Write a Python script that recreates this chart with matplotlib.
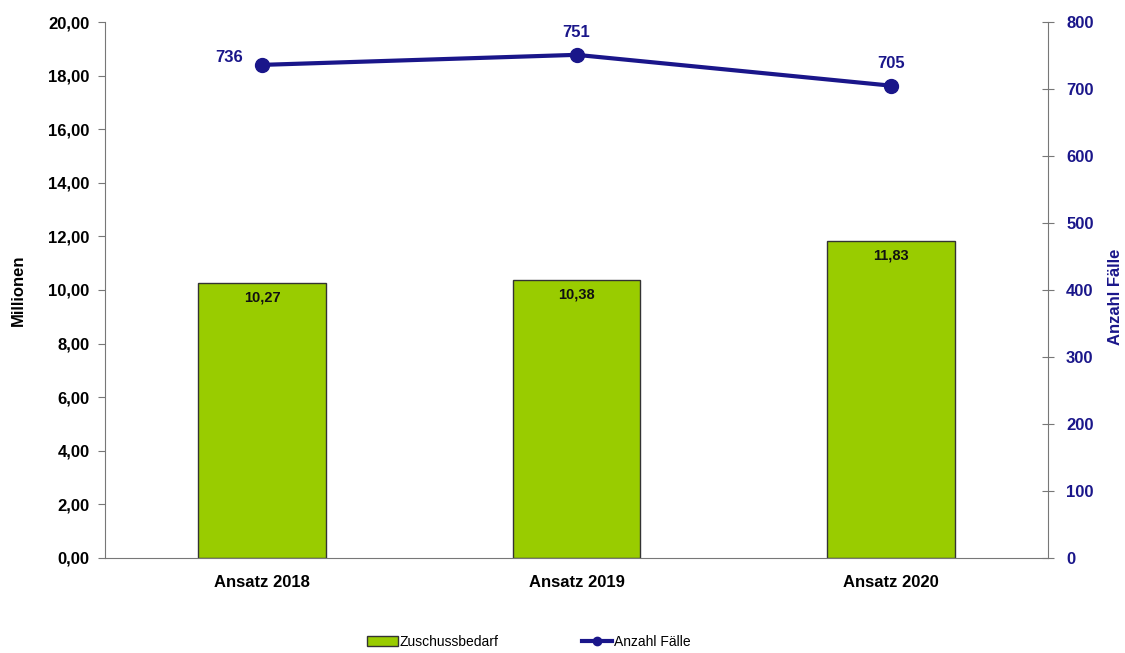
import matplotlib.pyplot as plt

plt.rcParams['font.family'] = ['Liberation Sans', 'DejaVu Sans']

# data
categories = ["Ansatz 2018", "Ansatz 2019", "Ansatz 2020"]
zuschuss = [10.27, 10.38, 11.83]
faelle = [736, 751, 705]

navy = "#1A168A"
green = "#99CC00"

fig = plt.figure(figsize=(11.25, 6.53), dpi=100)
ax = fig.add_axes([0.0933, 0.1455, 0.8383, 0.8208])
x = list(range(len(categories)))

bars = ax.bar(x, zuschuss, width=0.405, color=green, edgecolor="#333333", linewidth=1.0, zorder=2,
              label="Zuschussbedarf")
for xi, v in zip(x, zuschuss):
    ax.text(xi, v - 0.3, f"{v:.2f}".replace(".", ","), ha="center", va="top",
            fontsize=10.5, fontweight="bold", color="#111111", zorder=3)

ax.set_xlim(-0.5, 2.5)
ax.set_ylim(0, 20)
ax.set_yticks(range(0, 21, 2))
ax.set_yticklabels([f"{t:.2f}".replace(".", ",") for t in range(0, 21, 2)],
                   fontsize=12, fontweight="bold")
ax.set_xticks(x)
ax.set_xticklabels(categories, fontsize=12, fontweight="bold")
ax.tick_params(axis="x", length=0, pad=12)
ax.tick_params(axis="y", direction="out", length=5, color="#777777", pad=6)
ax.set_ylabel("Millionen", fontsize=12, fontweight="bold", labelpad=16)
for s in ["top", "right"]:
    ax.spines[s].set_visible(False)
ax.spines["left"].set_color("#777777")
ax.spines["bottom"].set_color("#777777")

ax2 = ax.twinx()
ax2.set_ylim(0, 800)
ax2.set_yticks(range(0, 801, 100))
ax2.tick_params(axis="y", direction="inout", length=8, color="#777777", labelcolor=navy,
                labelsize=12, pad=9)
for lab in ax2.get_yticklabels():
    lab.set_fontweight("bold")
for s in ["top", "left", "bottom"]:
    ax2.spines[s].set_visible(False)
ax2.spines["right"].set_color("#777777")
fig.text(1116 / 1125, 0.545, "Anzahl Fälle", rotation=90, ha="center", va="center",
         fontsize=12, fontweight="bold", color=navy)

line, = ax2.plot(x, faelle, color=navy, linewidth=3, marker="o", markersize=10, zorder=4,
                 label="Anzahl Fälle")
offsets = [(-24, 5), (0, 16), (0, 16)]
for xi, v, off in zip(x, faelle, offsets):
    ax2.annotate(str(v), (xi, v), textcoords="offset points", xytext=off,
                 ha="center", va="center", fontsize=12, fontweight="bold", color=navy)

fig.legend(handles=[bars, line], labels=["Zuschussbedarf", "Anzahl Fälle"],
           loc="center", bbox_to_anchor=(0.47, 0.017), ncol=2, frameon=False,
           fontsize=10, handlelength=2.2, handletextpad=0.1, columnspacing=6,
           markerscale=0.6)

fig.savefig("out.png", dpi=100)
